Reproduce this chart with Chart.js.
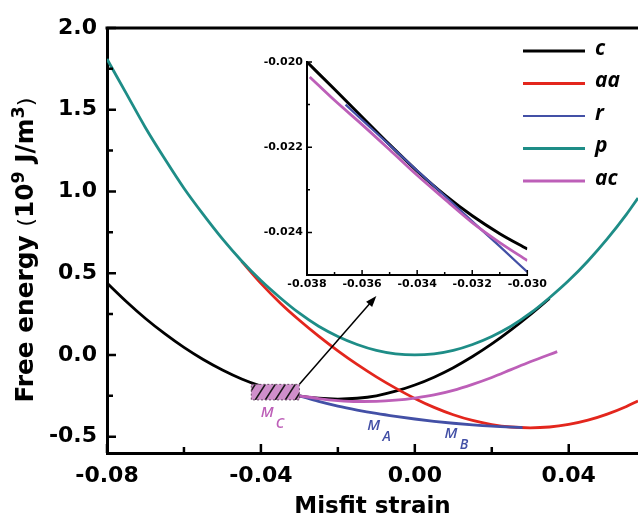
<!DOCTYPE html>
<html>
<head>
<meta charset="utf-8">
<script src="https://cdn.jsdelivr.net/npm/chart.js@4.4.0/dist/chart.umd.min.js"></script>
<style>
  body { margin: 0; background: #fff; }
  #wrap { position: relative; width: 638px; height: 524px; overflow: hidden; }
  #main { position: absolute; left: 0; top: 0; }
  #inset { position: absolute; left: 250px; top: 50px; }
</style>
</head>
<body>
<div id="wrap">
  <canvas id="main" width="638" height="524"></canvas>
  <canvas id="inset" width="300" height="245"></canvas>
</div>
<script>
// Main panel: free energy vs misfit strain
const cStrain = [-0.08, -0.075, -0.07, -0.065, -0.06, -0.055, -0.05, -0.045, -0.04, -0.035, -0.03, -0.025,
                 -0.02, -0.015, -0.01, -0.005, 0, 0.005, 0.01, 0.015, 0.02, 0.025, 0.03, 0.035];
const cEnergy = [0.44, 0.327, 0.223, 0.13, 0.046, -0.028, -0.092, -0.147, -0.191, -0.226, -0.25, -0.265,
                 -0.27, -0.265, -0.25, -0.222, -0.184, -0.136, -0.078, -0.01, 0.067, 0.153, 0.246, 0.345];

const aaStrain = [-0.045, -0.04, -0.035, -0.03, -0.025, -0.02, -0.015, -0.01, -0.005, 0, 0.005,
                  0.01, 0.015, 0.02, 0.025, 0.03, 0.035, 0.04, 0.045, 0.05, 0.055, 0.058];
const aaEnergy = [0.572, 0.438, 0.318, 0.212, 0.115, 0.025, -0.058, -0.134, -0.203, -0.266, -0.321,
                  -0.366, -0.401, -0.426, -0.441, -0.446, -0.441, -0.425, -0.399, -0.362, -0.315, -0.282];

const rStrain = [-0.03, -0.025, -0.02, -0.015, -0.01, -0.005, 0, 0.005, 0.01, 0.015, 0.02, 0.028];
const rEnergy = [-0.25, -0.284, -0.313, -0.337, -0.358, -0.376, -0.392, -0.406, -0.418, -0.428, -0.436, -0.445];

const pStrain = [-0.08, -0.075, -0.07, -0.065, -0.06, -0.055, -0.05, -0.045, -0.04, -0.035, -0.03, -0.025,
                 -0.02, -0.015, -0.01, -0.005, 0, 0.005, 0.01, 0.015, 0.02, 0.025, 0.03, 0.035,
                 0.04, 0.045, 0.05, 0.055, 0.058];
const pEnergy = [1.81, 1.6, 1.39, 1.2, 1.02, 0.86, 0.71, 0.575, 0.455, 0.35, 0.255, 0.175,
                 0.113, 0.064, 0.028, 0.007, 0, 0.007, 0.028, 0.064, 0.113, 0.175, 0.255, 0.35,
                 0.455, 0.575, 0.71, 0.86, 0.96];

const acStrain = [-0.03, -0.025, -0.02, -0.015, -0.01, -0.005, 0, 0.005, 0.01, 0.015, 0.02, 0.025, 0.03, 0.037];
const acEnergy = [-0.25, -0.267, -0.279, -0.285, -0.284, -0.277, -0.264, -0.245, -0.217, -0.18, -0.138, -0.09, -0.042, 0.02];

const xTicks = [-0.08, -0.04, 0, 0.04];
const xMinor = [-0.06, -0.02, 0.02];
const yTicks = [-0.5, 0, 0.5, 1.0, 1.5, 2.0];
const yMinor = [-0.25, 0.25, 0.75, 1.25, 1.75];

// Inset: zoom of the hatched region
const insetStrain = [-0.038, -0.037, -0.036, -0.035, -0.034, -0.033, -0.032, -0.031, -0.030];
const insetC = [-0.0200, -0.02064, -0.02129, -0.02194, -0.02256, -0.02312, -0.02361, -0.02403, -0.02439];
const insetRStrain = [-0.0366, -0.036, -0.035, -0.034, -0.033, -0.032, -0.031, -0.030];
const insetR = [-0.0210, -0.02136, -0.02195, -0.02255, -0.02314, -0.02374, -0.02433, -0.02493];
const insetAcStrain = [-0.0379, -0.037, -0.036, -0.035, -0.034, -0.033, -0.032, -0.031, -0.030];
const insetAc = [-0.02035, -0.0209, -0.02147, -0.02206, -0.02266, -0.02322, -0.02377, -0.02424, -0.02466];

const insetXTicks = [-0.038, -0.036, -0.034, -0.032, -0.030];
const insetXMinor = [-0.037, -0.035, -0.033, -0.031];
const insetYTicks = [-0.024, -0.022, -0.020];
const insetYMinor = [-0.023, -0.021];

// hatched region and annotations (data units)
const boxStrain = [-0.0425, -0.030];
const boxEnergy = [-0.275, -0.18];
const arrowTip = [-0.010, 0.36];

const colors = { c: '#000000', aa: '#e3261d', r: '#4350a6', p: '#1e8d87', ac: '#bd5fb8' };
const FONT = 'DejaVu Sans';

function toPoints(xs, ys) {
  return xs.map((x, i) => ({ x: x, y: ys[i] }));
}

function line(label, xs, ys, color, width, order) {
  return {
    label: label,
    data: toPoints(xs, ys),
    borderColor: color,
    backgroundColor: color,
    borderWidth: width,
    pointRadius: 0,
    cubicInterpolationMode: 'monotone',
    order: order
  };
}

// ticks drawn pointing into the plot, plus the top frame line
function inwardTicks(cfg) {
  return {
    id: 'inwardTicks',
    afterDatasetsDraw(chart) {
      const { ctx, chartArea: a, scales: { x, y } } = chart;
      ctx.save();
      ctx.strokeStyle = '#000';
      ctx.lineWidth = cfg.width;
      ctx.beginPath();
      cfg.xMajor.forEach(v => { const p = x.getPixelForValue(v); ctx.moveTo(p, a.bottom); ctx.lineTo(p, a.bottom - cfg.major); });
      cfg.xMinor.forEach(v => { const p = x.getPixelForValue(v); ctx.moveTo(p, a.bottom); ctx.lineTo(p, a.bottom - cfg.minor); });
      cfg.yMajor.forEach(v => { const p = y.getPixelForValue(v); ctx.moveTo(a.left, p); ctx.lineTo(a.left + cfg.major, p); });
      cfg.yMinor.forEach(v => { const p = y.getPixelForValue(v); ctx.moveTo(a.left, p); ctx.lineTo(a.left + cfg.minor, p); });
      ctx.stroke();
      if (cfg.top) {
        ctx.lineWidth = cfg.top;
        ctx.beginPath();
        ctx.moveTo(a.left - 1.5, a.top);
        ctx.lineTo(a.right, a.top);
        ctx.stroke();
      }
      ctx.restore();
    }
  };
}

const legendPlugin = {
  id: 'sideLegend',
  afterDraw(chart) {
    const ctx = chart.ctx;
    ctx.save();
    ctx.font = 'italic bold 21px "Open Sans"';
    ctx.textBaseline = 'middle';
    chart.data.datasets.forEach((ds, i) => {
      const yy = 51 + i * 32.5;
      ctx.strokeStyle = ds.borderColor;
      ctx.lineWidth = ds.label === 'r' ? 2.2 : 3;
      ctx.beginPath();
      ctx.moveTo(523, yy);
      ctx.lineTo(585, yy);
      ctx.stroke();
      ctx.fillStyle = '#000';
      ctx.fillText(ds.label, 595, yy - 2);
    });
    ctx.restore();
  }
};

// rotated y title with real superscripts
const yTitleParts = [
  { t: 'Free energy ', font: 'bold 24px', rise: 0 },
  { t: '(', font: '22px', rise: 0 },
  { t: '10', font: 'bold 24px', rise: 0 },
  { t: '9', font: 'bold 17px', rise: 9 },
  { t: ' J/m', font: 'bold 24px', rise: 0 },
  { t: '3', font: 'bold 17px', rise: 9 },
  { t: ')', font: '22px', rise: 0 }
];
const yTitlePlugin = {
  id: 'yTitle',
  afterDraw(chart) {
    const ctx = chart.ctx;
    ctx.save();
    let total = 0;
    yTitleParts.forEach(p => { ctx.font = p.font + ' "' + FONT + '"'; p.w = ctx.measureText(p.t).width; total += p.w; });
    const span = 305;
    ctx.translate(33, 250 + span / 2);
    ctx.rotate(-Math.PI / 2);
    ctx.scale(span / total, 1);
    ctx.fillStyle = '#000';
    ctx.textBaseline = 'alphabetic';
    let pos = 0;
    yTitleParts.forEach(p => {
      ctx.font = p.font + ' "' + FONT + '"';
      ctx.fillText(p.t, pos, -p.rise);
      pos += p.w;
    });
    ctx.restore();
  }
};

const boxPlugin = {
  id: 'zoomBox',
  afterDatasetsDraw(chart) {
    const { ctx, scales: { x, y } } = chart;
    const x0 = x.getPixelForValue(boxStrain[0]), x1 = x.getPixelForValue(boxStrain[1]);
    const y0 = y.getPixelForValue(boxEnergy[1]), y1 = y.getPixelForValue(boxEnergy[0]);
    ctx.save();
    ctx.fillStyle = '#cf8fcb';
    ctx.fillRect(x0, y0, x1 - x0, y1 - y0);
    ctx.beginPath();
    ctx.rect(x0, y0, x1 - x0, y1 - y0);
    ctx.clip();
    ctx.strokeStyle = '#1a1a1a';
    ctx.lineWidth = 1.6;
    ctx.beginPath();
    for (let sx = x0 - 6; sx < x1 + 12; sx += 10) {
      ctx.moveTo(sx, y1);
      ctx.lineTo(sx + 10, y0);
    }
    ctx.stroke();
    ctx.restore();

    ctx.save();
    ctx.setLineDash([2, 2]);
    ctx.strokeStyle = '#6a4a68';
    ctx.lineWidth = 1;
    ctx.strokeRect(x0, y0, x1 - x0, y1 - y0);
    ctx.restore();

    // arrow to the inset
    const ax = x.getPixelForValue(arrowTip[0]), ay = y.getPixelForValue(arrowTip[1]);
    const ang = Math.atan2(ay - y0, ax - x1);
    ctx.save();
    ctx.strokeStyle = '#000';
    ctx.fillStyle = '#000';
    ctx.lineWidth = 1.5;
    ctx.beginPath();
    ctx.moveTo(x1, y0);
    ctx.lineTo(ax - 6 * Math.cos(ang), ay - 6 * Math.sin(ang));
    ctx.stroke();
    ctx.beginPath();
    ctx.moveTo(ax, ay);
    ctx.lineTo(ax - 11 * Math.cos(ang) + 4 * Math.sin(ang), ay - 11 * Math.sin(ang) - 4 * Math.cos(ang));
    ctx.lineTo(ax - 11 * Math.cos(ang) - 4 * Math.sin(ang), ay - 11 * Math.sin(ang) + 4 * Math.cos(ang));
    ctx.closePath();
    ctx.fill();
    ctx.restore();

    // M labels
    const marks = [
      { sub: 'C', at: [-0.0384, -0.354], color: colors.ac },
      { sub: 'A', at: [-0.0107, -0.433], color: colors.r },
      { sub: 'B', at: [0.0094, -0.482], color: colors.r }
    ];
    ctx.save();
    ctx.textAlign = 'center';
    ctx.textBaseline = 'middle';
    marks.forEach(m => {
      const px = x.getPixelForValue(m.at[0]), py = y.getPixelForValue(m.at[1]);
      ctx.fillStyle = m.color;
      ctx.font = 'italic 600 15px "Open Sans"';
      ctx.fillText('M', px, py);
      ctx.font = 'italic 600 14px "Open Sans"';
      ctx.fillText(m.sub, px + 13, py + 11);
    });
    ctx.restore();
  }
};

const tickFont = { family: FONT, size: 22, weight: 'bold' };
const titleFont = { family: FONT, size: 23, weight: 'bold' };

new Chart(document.getElementById('main'), {
  type: 'line',
  data: {
    datasets: [
      line('c', cStrain, cEnergy, colors.c, 2.8, 5),
      line('aa', aaStrain, aaEnergy, colors.aa, 2.8, 4),
      line('r', rStrain, rEnergy, colors.r, 2.8, 3),
      line('p', pStrain, pEnergy, colors.p, 2.8, 1),
      line('ac', acStrain, acEnergy, colors.ac, 2.8, 2)
    ]
  },
  options: {
    responsive: false,
    animation: false,
    devicePixelRatio: 1,
    layout: { padding: { left: 0, top: 28, right: 0, bottom: 0 } },
    plugins: { legend: { display: false }, tooltip: { enabled: false } },
    scales: {
      x: {
        type: 'linear',
        min: -0.08,
        max: 0.058,
        afterBuildTicks: s => { s.ticks = xTicks.map(v => ({ value: v })); },
        afterFit: s => { s.height = 71; },
        grid: { display: false, drawTicks: false },
        border: { display: true, color: '#000', width: 3 },
        ticks: { color: '#000', font: tickFont, padding: 10, maxRotation: 0, callback: v => v.toFixed(2) },
        title: { display: true, text: 'Misfit strain', color: '#000', font: titleFont, padding: { bottom: 3 } }
      },
      y: {
        type: 'linear',
        min: -0.6,
        max: 2.0,
        afterBuildTicks: s => { s.ticks = yTicks.map(v => ({ value: v })); },
        afterFit: s => { s.width = 107; },
        grid: { display: false, drawTicks: false },
        border: { display: true, color: '#000', width: 3 },
        ticks: { color: '#000', font: tickFont, padding: 10, callback: v => v.toFixed(1) },
        title: { display: false }
      }
    }
  },
  plugins: [inwardTicks({ xMajor: xTicks, xMinor: xMinor, yMajor: yTicks, yMinor: yMinor, major: 9, minor: 6, width: 2.5, top: 3 }),
            boxPlugin, legendPlugin, yTitlePlugin]
});

const insetFont = { family: FONT, size: 11, weight: 'bold' };

new Chart(document.getElementById('inset'), {
  type: 'line',
  data: {
    datasets: [
      line('c', insetStrain, insetC, colors.c, 3, 3),
      line('r', insetRStrain, insetR, colors.r, 2.3, 2),
      line('ac', insetAcStrain, insetAc, colors.ac, 2.8, 1)
    ]
  },
  options: {
    responsive: false,
    animation: false,
    devicePixelRatio: 1,
    layout: { padding: { left: 0, top: 12, right: 17, bottom: 0 } },
    plugins: { legend: { display: false }, tooltip: { enabled: false } },
    scales: {
      x: {
        type: 'linear',
        min: -0.038,
        max: -0.030,
        afterBuildTicks: s => { s.ticks = insetXTicks.map(v => ({ value: v })); },
        afterFit: s => { s.height = 20; },
        grid: { display: false, drawTicks: false },
        border: { display: true, color: '#000', width: 2 },
        ticks: { color: '#000', font: insetFont, padding: 3, maxRotation: 0, callback: v => v.toFixed(3) }
      },
      y: {
        type: 'linear',
        min: -0.025,
        max: -0.020,
        afterBuildTicks: s => { s.ticks = insetYTicks.map(v => ({ value: v })); },
        afterFit: s => { s.width = 57; },
        grid: { display: false, drawTicks: false },
        border: { display: true, color: '#000', width: 2 },
        ticks: { color: '#000', font: insetFont, padding: 4, callback: v => v.toFixed(3) }
      }
    }
  },
  plugins: [inwardTicks({ xMajor: insetXTicks, xMinor: insetXMinor, yMajor: insetYTicks, yMinor: insetYMinor, major: 5, minor: 3, width: 1.5, top: 0 })]
});
</script>
</body>
</html>
